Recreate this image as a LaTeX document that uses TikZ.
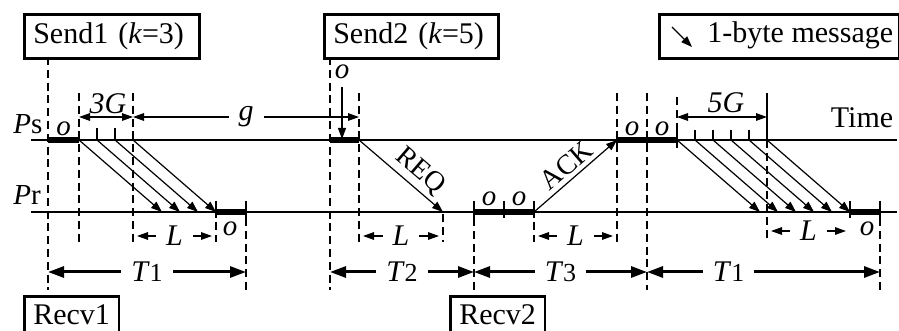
\documentclass[tikz,border=0pt]{standalone}
\usepackage{fontspec}
\setmainfont{Liberation Serif}
\usetikzlibrary{arrows.meta, calc, positioning}
\tikzset{
  tline/.style    = {line width=0.75pt},
  busy/.style     = {line width=2.6pt},
  guide/.style    = {line width=0.6pt, dash pattern=on 4pt off 2.4pt},
  tickmark/.style = {line width=0.6pt},
  msg/.style      = {-{Triangle[length=5.5pt, width=4pt]}, line width=0.6pt},
  dimarrow/.style = {{Triangle[length=5.5pt, width=3.8pt]}-{Triangle[length=5.5pt, width=3.8pt]}, line width=0.6pt},
  period/.style   = {{Triangle[length=8pt, width=5.5pt]}-{Triangle[length=8pt, width=5.5pt]}, line width=1.5pt},
  markbox/.style  = {draw, line width=1.3pt, minimum height=22pt, inner xsep=4.5pt, inner ysep=2pt,
                     font=\fontsize{15}{15}\selectfont},
  lbl/.style      = {font=\fontsize{15}{15}\selectfont},
  olbl/.style     = {font=\fontsize{14.5}{14.5}\selectfont},
  cut/.style      = {lbl, fill=white, inner xsep=5pt, inner ysep=0pt},
}
\newcommand{\ovh}{\textit{o}}
\newcommand{\tspan}[1]{\textit{T}{\fontsize{13}{13}\selectfont #1}}

\begin{document}
\begin{tikzpicture}[x=0.5pt, y=-0.5pt]
  \useasboundingbox (0,0) rectangle (899,331);
  % time lines of sender and receiver
  \coordinate (psL) at (31,140);  \coordinate (psR) at (897,140);
  \coordinate (prL) at (31,212);  \coordinate (prR) at (897,212);
  \draw[tline] (psL) -- (psR);
  \draw[tline] (prL) -- (prR);
  \node[font=\fontsize{14.5}{14.5}\selectfont, anchor=base west, inner sep=0pt] (ps) at (13,134) {\textit{P}s};
  \node[font=\fontsize{14.5}{14.5}\selectfont, anchor=base west, inner sep=0pt] (pr) at (13,205) {\textit{P}r};
  \node[lbl] (time) at (862,118) {Time};

  % boxes
  \node[markbox, anchor=north west, text width=78.5pt, align=left] (send1) at (23,13) {Send1 (\textit{k}=3)};
  \node[markbox, anchor=north west, text width=78pt, align=left] (send2) at (323,13) {Send2 (\textit{k}=5)};
  \node[markbox, anchor=north west, minimum width=120pt] (legend) at (658,13) {};
  \node[markbox, anchor=north west, minimum width=46pt, minimum height=0pt, inner ysep=4pt, text depth=8pt] (recv1) at (23,295) {Recv1};
  \node[markbox, anchor=north west, minimum width=45pt, minimum height=0pt, inner ysep=4pt, text depth=8pt] (recv2) at (449,295) {Recv2};
  \coordinate (lgA) at (672,27);
  \coordinate (lgB) at (692,47);
  \draw[msg] (lgA) -- (lgB);
  \node[lbl, anchor=west, inner sep=0pt] (lgtext) at (707,35) {1-byte message};

  % dashed guides
  \foreach \x/\a/\b in {48/57/290, 79/93/242, 133/93/242, 216/222/242, 246/218/290,
                        330/57/290, 359/93/242, 443/214/242, 474/218/290, 534/222/242,
                        617/93/242, 647/93/290, 677/97/131, 767/140/242, 880/218/290}
    \draw[guide] (\x,\a) -- (\x,\b);
  % ticks
  \foreach \x/\a/\b in {97/128/140, 115/128/140, 216/201/218, 246/201/218,
                        474/201/218, 504/201/218, 534/201/218,
                        617/131/148, 647/131/148, 677/131/148,
                        695/130/140, 713/130/140, 731/130/140, 749/130/140, 767/93/140,
                        850/201/218, 880/201/218}
    \draw[tickmark] (\x,\a) -- (\x,\b);
  % overhead
  \foreach \a/\b/\y in {48/79/140, 216/246/212, 330/359/140, 474/534/212, 617/677/140, 850/880/212}
    \draw[busy] (\a,\y) -- (\b,\y);
  \foreach \x/\y/\n in {63.5/138/o1, 489/208/o4, 519/208/o5, 632/138/o6, 662/138/o7}
    \node[olbl, anchor=south, inner sep=1pt] (\n) at (\x,\y) {\ovh};
  \node[olbl] (o2) at (230,229) {\ovh};
  \node[olbl] (o8) at (867,229) {\ovh};
  \node[olbl] (o3) at (342,72) {\ovh};
  \coordinate (o3a) at (342,87);
  \coordinate (o3b) at (342,139);
  \draw[msg] (o3a) -- (o3b);

  % 1-byte messages
  \foreach \i in {0,...,3} {
    \coordinate (a\i) at ({79+18*\i},140);
    \coordinate (b\i) at ({162+18*\i},212);
    \draw[msg] (a\i) -- (b\i);
  }
  \foreach \i in {0,...,5} {
    \coordinate (c\i) at ({677+18*\i},140);
    \coordinate (d\i) at ({760+18*\i},212);
    \draw[msg] (c\i) -- (d\i);
  }
  \coordinate (reqA) at (359,140); \coordinate (reqB) at (443,212);
  \draw[msg] (reqA) -- node[font=\fontsize{14}{14}\selectfont, sloped, above, pos=0.6, inner sep=2pt] (req) {REQ} (reqB);
  \coordinate (ackA) at (534,212); \coordinate (ackB) at (617,140);
  \draw[msg] (ackA) -- node[font=\fontsize{14}{14}\selectfont, sloped, above, pos=0.5, inner sep=2pt] (ack) {ACK} (ackB);

  % gaps and latencies
  \draw[dimarrow] (79,117) -- (133,117);
  \node[lbl] (g3) at (108,104) {\textit{3G}};
  \draw[dimarrow] (133,117) -- node[cut] (gl) {\textit{g}} (359,117);
  \draw[dimarrow] (677,117) -- (767,117);
  \node[lbl] (g5) at (726,103) {\textit{5G}};
  \foreach \a/\b/\y/\n in {133/216/236/L1, 359/443/236/L2, 534/617/236/L3, 767/850/231/L4}
    \draw[dimarrow, shorten <=2pt, shorten >=2pt] (\a,\y) -- node[cut] (\n) {\textit{L}} (\b,\y);

  % periods
  \draw[period] (48,272) -- node[cut] (t1) {\tspan{1}} (246,272);
  \draw[period] (330,272) -- node[cut] (t2) {\tspan{2}} (474,272);
  \draw[period] (474,272) -- node[cut] (t3) {\tspan{3}} (647,272);
  \draw[period] (647,272) -- node[cut, pos=0.35] (t4) {\tspan{1}} (880,272);
\end{tikzpicture}
\end{document}
